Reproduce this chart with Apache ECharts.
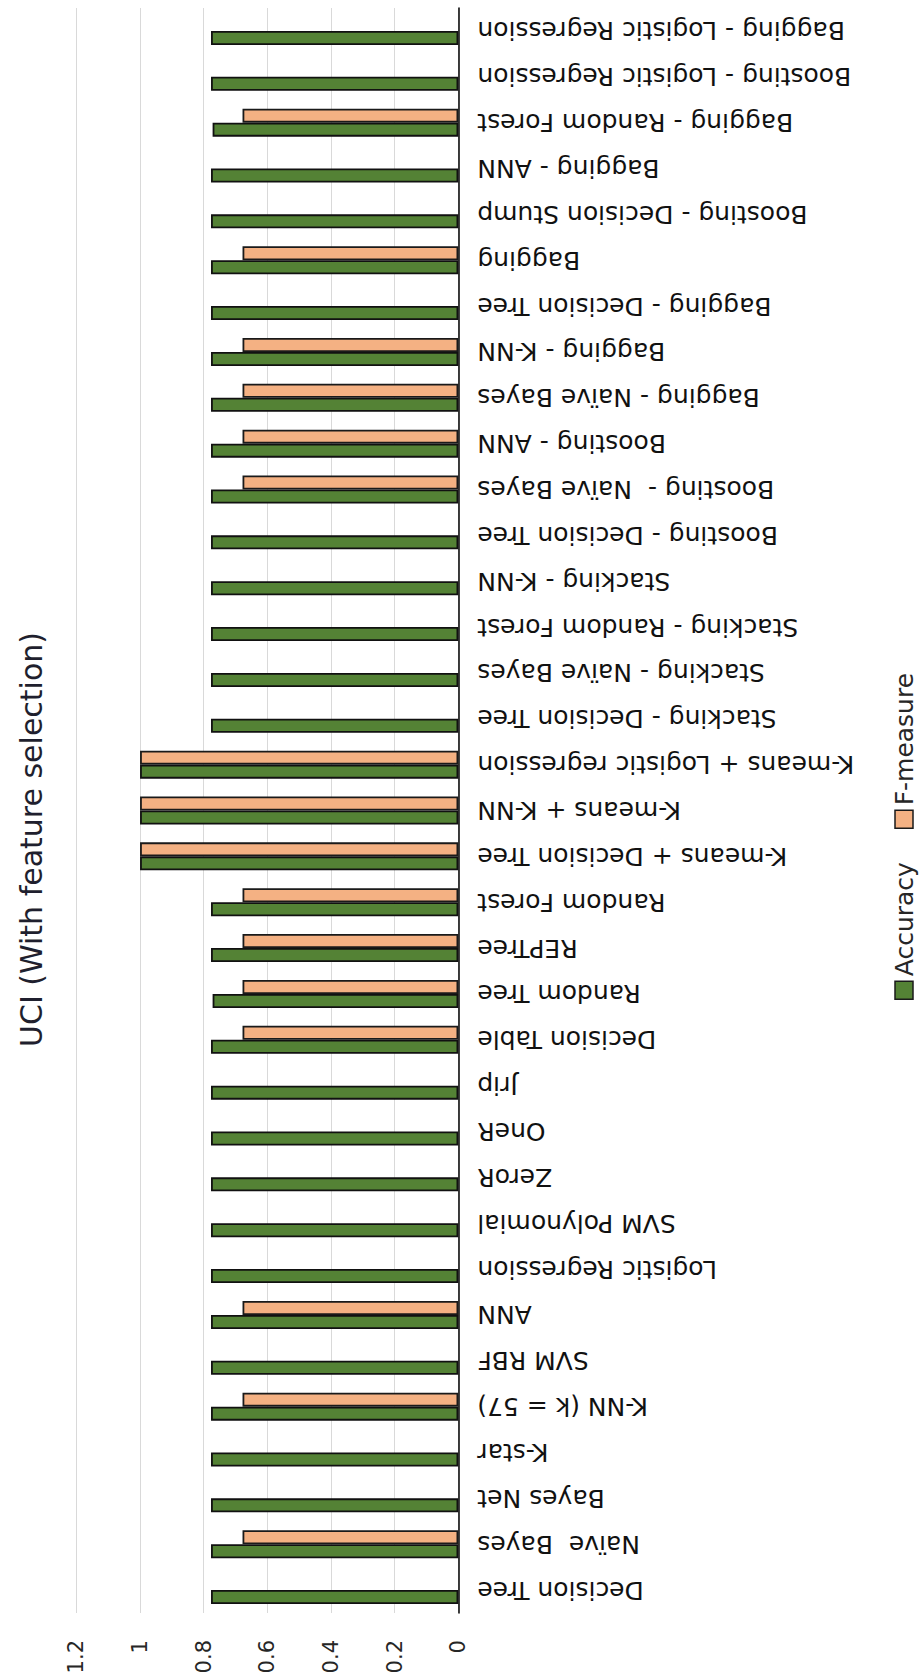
<!DOCTYPE html>
<html>
<head>
<meta charset="utf-8">
<title>UCI (With feature selection)</title>
<script src="https://cdn.jsdelivr.net/npm/echarts@6/dist/echarts.min.js"></script>
<style>
  html, body { margin: 0; padding: 0; background: #ffffff; overflow: hidden; width: 922px; height: 1679px; }
  /* The column chart is laid out landscape and turned a quarter turn counter-clockwise onto the portrait page */
  #wrap {
    position: absolute; left: 0; top: 0;
    width: 1679px; height: 922px;
    transform-origin: 0 0;
    transform: translateY(1679px) rotate(-90deg);
  }
  #chart { width: 1679px; height: 922px; }
</style>
</head>
<body>
<div id="wrap"><div id="chart"></div></div>
<script>
// Classifiers and ensembles evaluated on the UCI data (with feature selection)
const categories = [
  'Decision Tree', 'Naïve  Bayes', 'Bayes Net', 'K-star', 'K-NN (k = 57)',
  'SVM RBF', 'ANN', 'Logistic Regression', 'SVM Polynomial', 'ZeroR',
  'OneR', 'Jrip', 'Decision Table', 'Random Tree', 'REPTree',
  'Random Forest', 'K-means + Decision Tree', 'K-means + K-NN', 'K-means + Logistic regression',
  'Stacking - Decision Tree', 'Stacking - Naïve Bayes', 'Stacking - Random Forest', 'Stacking - K-NN',
  'Boosting - Decision Tree', 'Boosting -  Naïve Bayes', 'Boosting - ANN',
  'Bagging - Naïve Bayes', 'Bagging - K-NN', 'Bagging - Decision Tree', 'Bagging',
  'Boosting - Decision Stump', 'Bagging - ANN', 'Bagging - Random Forest',
  'Boosting - Logistic Regression', 'Bagging - Logistic Regression'
];

const accuracy = [
  0.777, 0.777, 0.777, 0.777, 0.777,
  0.777, 0.777, 0.777, 0.777, 0.777,
  0.777, 0.777, 0.777, 0.772, 0.777,
  0.777, 1, 1, 1,
  0.777, 0.777, 0.777, 0.777,
  0.777, 0.777, 0.777,
  0.777, 0.777, 0.777, 0.777,
  0.777, 0.777, 0.772,
  0.777, 0.777
];

// F-measure is only reported for some of the methods
const fMeasure = [
  null, 0.678, null, null, 0.678,
  null, 0.678, null, null, null,
  null, null, 0.678, 0.678, 0.678,
  0.678, 1, 1, 1,
  null, null, null, null,
  null, 0.678, 0.678,
  0.678, 0.678, null, 0.678,
  null, null, 0.678,
  null, null
];

const valueTicks = [0, 0.2, 0.4, 0.6, 0.8, 1, 1.2];
const seriesNames = ['Accuracy', 'F-measure'];

const FONT = 'DejaVu Sans';

const chart = echarts.init(document.getElementById('chart'), null, { renderer: 'svg', width: 1679, height: 922 });

chart.setOption({
  animation: false,
  backgroundColor: '#ffffff',
  color: ['#548235', '#F4B183'],
  title: {
    text: 'UCI (With feature selection)',
    left: 'center',
    top: 13,
    padding: 0,
    textStyle: { fontFamily: FONT, fontSize: 30, fontWeight: 'normal', color: '#1f1f2e', lineHeight: 36 }
  },
  legend: {
    data: seriesNames,
    left: 679,
    top: 891,
    padding: 0,
    icon: 'rect',
    itemWidth: 18,
    itemHeight: 18,
    itemGap: 33,
    itemStyle: { borderColor: '#1a1a1a', borderWidth: 1.5 },
    textStyle: { fontFamily: FONT, fontSize: 25, color: '#262626', lineHeight: 26 }
  },
  grid: { left: 66, right: 8, top: 76.4, bottom: 463.7, containLabel: false },
  xAxis: {
    type: 'category',
    data: categories,
    axisLine: { show: true, lineStyle: { color: '#000000', width: 1.5 } },
    axisTick: { show: false },
    axisLabel: {
      interval: 0,
      rotate: 90,
      margin: 19,
      fontFamily: FONT,
      fontSize: 25,
      color: '#111111'
    }
  },
  yAxis: {
    type: 'value',
    min: valueTicks[0],
    max: valueTicks[valueTicks.length - 1],
    interval: valueTicks[1] - valueTicks[0],
    axisLine: { show: false },
    axisTick: { show: false },
    splitLine: { show: true, lineStyle: { color: '#d9d9d9', width: 1 } },
    axisLabel: {
      margin: 27,
      fontFamily: FONT,
      fontSize: 21,
      color: '#262626'
    }
  },
  series: [
    {
      name: seriesNames[0],
      type: 'bar',
      data: accuracy,
      barWidth: 14,
      barGap: '0%',
      itemStyle: { color: '#548235', borderColor: '#111111', borderWidth: 1.8 }
    },
    {
      name: seriesNames[1],
      type: 'bar',
      data: fMeasure,
      barWidth: 14,
      barGap: '0%',
      itemStyle: { color: '#F4B183', borderColor: '#1a1a1a', borderWidth: 1.8 }
    }
  ]
});
</script>
</body>
</html>
